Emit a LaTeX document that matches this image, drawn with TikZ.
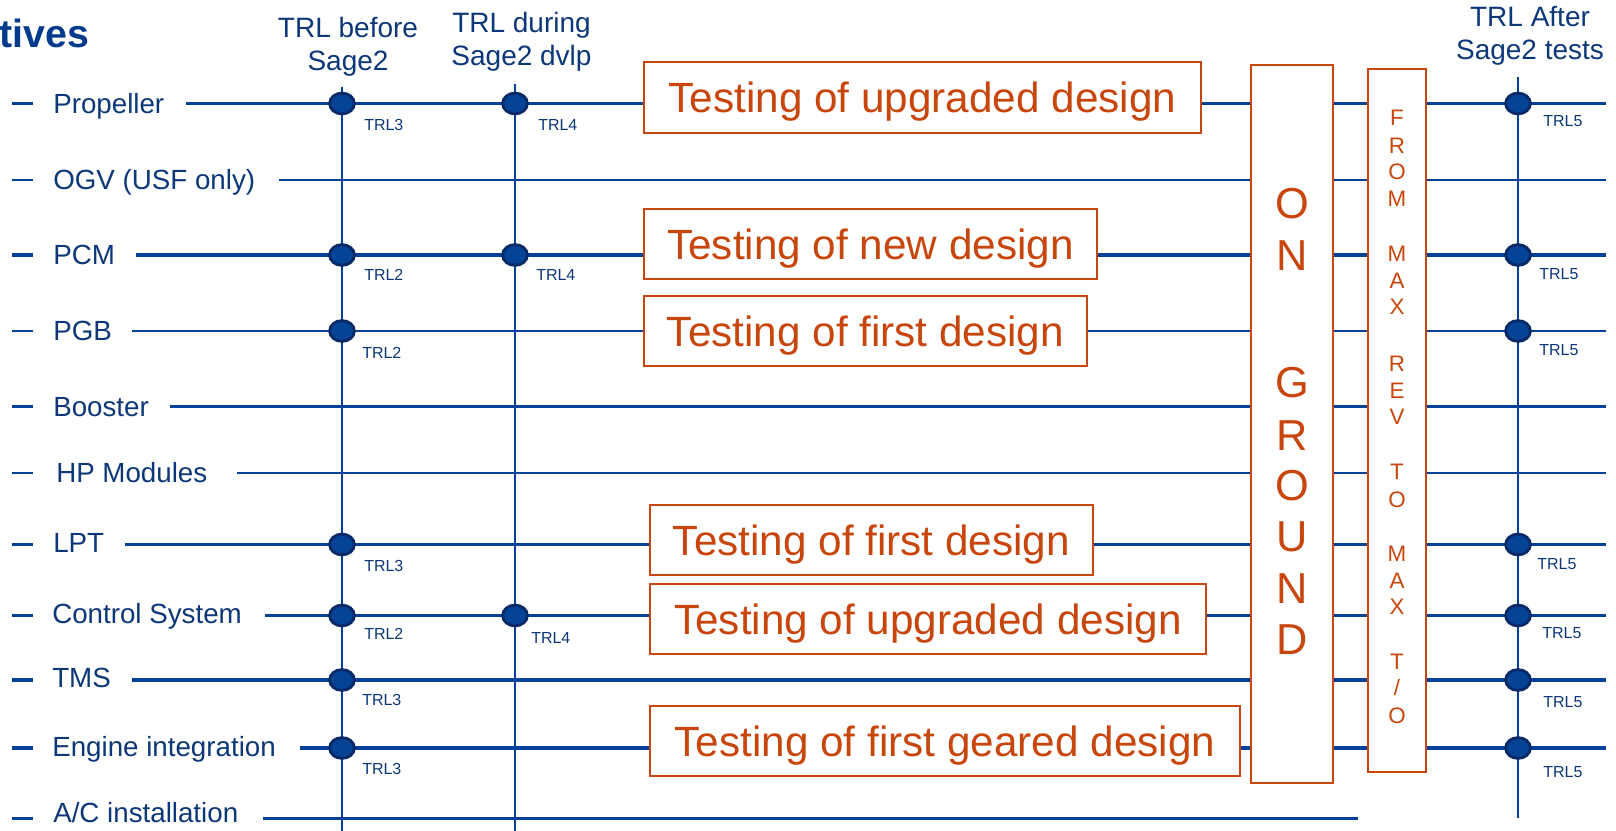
\documentclass[tikz,border=0pt]{standalone}
\usepackage{fontspec}
\setmainfont{Liberation Sans}
\usetikzlibrary{calc,shapes.geometric}
\definecolor{lineblue}{RGB}{3,66,152}
\definecolor{textblue}{RGB}{12,55,120}
\definecolor{titleblue}{RGB}{0,58,140}
\definecolor{dotfill}{RGB}{4,68,150}
\definecolor{dotrim}{RGB}{6,42,104}
\definecolor{rust}{RGB}{200,70,12}

\begin{document}
\begin{tikzpicture}[x=0.75pt,y=-0.75pt,
  rowthin/.style={draw=lineblue, line width=1.6pt},
  rowthick/.style={draw=lineblue, line width=2.3pt},
  colline/.style={draw=lineblue, line width=1.4pt},
  rowlabel/.style={anchor=west, inner sep=0pt, text=textblue,
    font=\fontsize{20.8pt}{25pt}\selectfont, text height=14.9pt, text depth=0pt},
  header/.style={align=center, inner sep=0pt, text=textblue,
    font=\fontsize{21pt}{24.75pt}\selectfont},
  dot/.style={ellipse, draw=dotrim, fill=dotfill, line width=2.2pt,
    minimum width=18.5pt, minimum height=15.5pt, inner sep=0pt},
  trl/.style={anchor=west, inner sep=0pt, text=textblue,
    font=\fontsize{12pt}{14pt}\selectfont, text height=8.6pt, text depth=0pt},
  testbox/.style={draw=rust, fill=white, line width=1.5pt, text=rust, inner sep=0pt,
    minimum height=52.5pt, font=\fontsize{31.7pt}{36pt}\selectfont,
    text height=22.7pt, text depth=0pt},
  tallbox/.style={draw=rust, fill=white, line width=1.5pt, inner sep=0pt},
  bigletter/.style={text=rust, inner sep=0pt, font=\fontsize{32.5pt}{36pt}\selectfont,
    text height=23.3pt, text depth=0pt},
  smallletter/.style={text=rust, inner sep=0pt, font=\fontsize{16.8pt}{20pt}\selectfont,
    text height=12pt, text depth=0pt},
]
\useasboundingbox (0,0) rectangle (1616,831);

% title fragment
\node[anchor=base west, inner sep=0pt, text=titleblue,
  font=\fontsize{29.5pt}{34pt}\selectfont\bfseries] (title) at (-1,47.5) {tives};

% column headers
\node[header] (h1) at (348,47) {TRL before\\Sage2};
\node[header] (h2) at (521.5,41.5) {TRL during\\Sage2 dvlp};
\node[header] (h3) at (1530,35.8) {TRL After\\Sage2 tests};

% vertical milestone lines
\coordinate (c1top) at (342,87);   \coordinate (c1bot) at (342,836);
\coordinate (c2top) at (515,84);   \coordinate (c2bot) at (515,836);
\coordinate (c3top) at (1518,77);  \coordinate (c3bot) at (1518,818);
\draw[colline] (c1top) -- (c1bot);
\draw[colline] (c2top) -- (c2bot);
\draw[colline] (c3top) -- (c3bot);

% component rows: name / line y / label x / label y / line start / line end / style
\foreach \nm/\yy/\lx/\ly/\ls/\le/\st [count=\i] in {
  Propeller/103.5/53/103.5/186/1606/rowthin,
  OGV (USF only)/180/53/180/279/1606/rowthin,
  PCM/255/53/255/136/1606/rowthick,
  PGB/331/53/331/132/1606/rowthin,
  Booster/406.5/53/406.5/170/1606/rowthin,
  HP Modules/473/56/473/237/1606/rowthin,
  LPT/544.5/53/543/125/1606/rowthin,
  Control System/615.5/52/614/265/1606/rowthin,
  TMS/680/52/678/132/1606/rowthick,
  Engine integration/748/52/747/300/1606/rowthick,
  {A/C installation}/818.5/53/813/263/1358/rowthick}
{
  \coordinate (dashL\i) at (12,\yy);
  \coordinate (dashR\i) at (33,\yy);
  \draw[\st] (dashL\i) -- (dashR\i);
  \node[rowlabel] (lab\i) at (\lx,\ly) {\nm};
  \coordinate (rowS\i) at (\ls,\yy);
  \coordinate (rowE\i) at (\le,\yy);
  \draw[\st] (rowS\i) -- (rowE\i);
}

% test campaigns
\node[testbox, minimum width=417.75pt, minimum height=53.25pt] (test1) at (922.5,97.5) {Testing of upgraded design};
\node[testbox, minimum width=339.75pt] (test2) at (870.5,244) {Testing of new design};
\node[testbox, minimum width=332.25pt] (test3) at (865.5,331) {Testing of first design};
\node[testbox, minimum width=332.25pt] (test4) at (871.5,540) {Testing of first design};
\node[testbox, minimum width=417pt] (test5) at (928,619) {Testing of upgraded design};
\node[testbox, minimum width=442.5pt] (test6) at (945,741) {Testing of first geared design};

% ground test and rating boxes
\node[tallbox, minimum width=61.5pt, minimum height=538.5pt] (ground) at (1292,424) {};
\node[tallbox, minimum width=43.5pt, minimum height=527.25pt] (maxrev) at (1397,420.5) {};

\foreach \ch/\yy [count=\j] in {O/202.5, N/255.3, G/381.7, R/435, O/485, U/535.8, N/587.5, D/639}
  \node[bigletter] (og\j) at (1292,\yy) {\ch};

\foreach \ch/\yy [count=\j] in {F/118, R/146, O/171.7, M/198.3, M/253.3, A/280, X/306.7,
    R/363.3, E/390, V/416, T/471.7, O/499.3, M/553.3, A/580, X/606.7, T/661.7, {/}/687.3, O/715}
  \node[smallletter] (mx\j) at (1397,\yy) {\ch};

% TRL milestones
\foreach \cx/\cy/\lab/\dx/\dy [count=\k] in {
  342/103.5/TRL3/22/21, 342/255/TRL2/22/20, 342/331/TRL2/20/22, 342/544.5/TRL3/22/21,
  342/615.5/TRL2/22/18, 342/680/TRL3/20/20, 342/748/TRL3/20/21,
  515/103.5/TRL4/23/21, 515/255/TRL4/21/20, 515/615.5/TRL4/16/22,
  1518/103.5/TRL5/25/17, 1518/255/TRL5/21/19, 1518/331/TRL5/21/19, 1518/544.5/TRL5/19/19,
  1518/615.5/TRL5/24/17, 1518/680/TRL5/25/22, 1518/748/TRL5/25/24}
{
  \node[dot] (dot\k) at (\cx,\cy) {};
  \node[trl] (trl\k) at ($(dot\k.center)+(\dx,\dy)$) {\lab};
}
\end{tikzpicture}
\end{document}
